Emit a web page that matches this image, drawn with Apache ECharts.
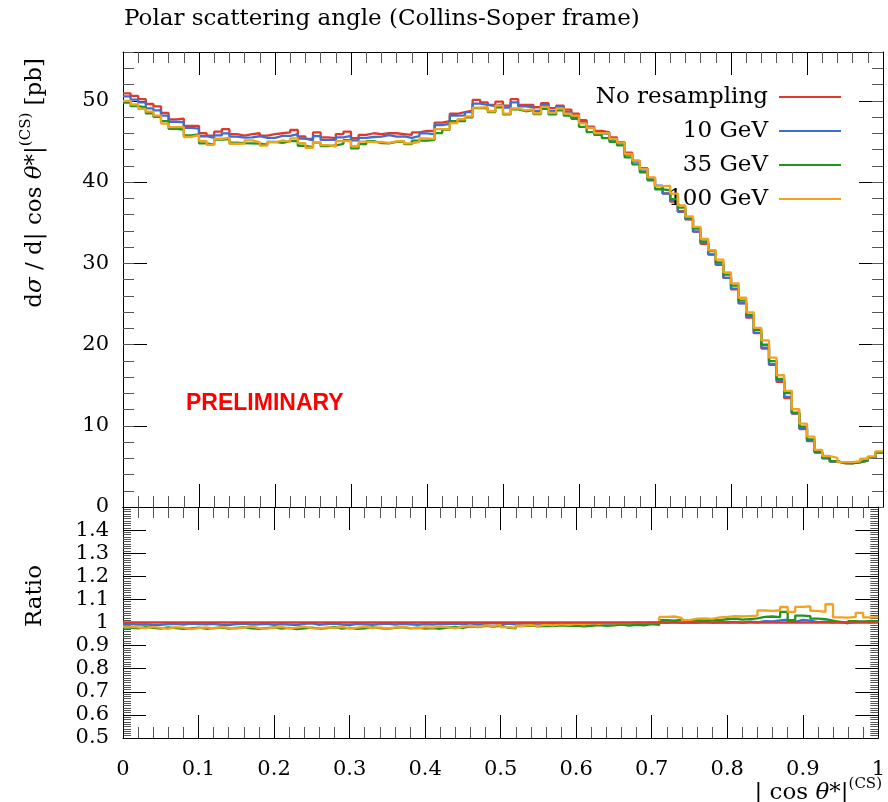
<!DOCTYPE html>
<html>
<head>
<meta charset="utf-8">
<script src="https://cdn.jsdelivr.net/npm/echarts@6/dist/echarts.min.js"></script>
<style>
html,body{margin:0;padding:0;background:#fff;}
#chart{width:888px;height:802px;}
</style>
</head>
<body>
<div id="chart"></div>
<script>
// ---- data ----
const binWidth = 0.01;
const nBins = 100;
const seriesNames = ['No resampling', '10 GeV', '35 GeV', '100 GeV'];

// "No resampling" cross section per bin [pb]
const noResampling = [
  50.9, 50.6, 50.2, 49.6, 49.3, 48.5, 47.7, 47.8, 46.9, 46.9,
  46.0, 45.7, 46.2, 46.5, 45.9, 45.7, 45.9, 46.0, 45.7, 45.9,
  46.0, 46.1, 46.4, 45.6, 45.3, 46.1, 45.5, 45.4, 45.9, 46.2,
  45.4, 45.8, 46.0, 45.9, 46.0, 46.0, 45.9, 45.8, 46.1, 46.3,
  46.3, 47.3, 47.5, 48.4, 48.6, 48.8, 50.1, 49.8, 49.5, 49.9,
  49.4, 50.2, 49.5, 49.5, 49.2, 49.7, 49.1, 49.4, 48.9, 48.4,
  47.6, 46.8, 46.3, 46.1, 45.5, 44.9, 43.6, 42.6, 41.7, 40.5,
  39.5, 38.6, 37.6, 36.4, 35.4, 33.9, 32.4, 31.1, 29.8, 28.2,
  26.8, 25.1, 23.3, 21.4, 19.5, 17.5, 15.4, 13.4, 11.5, 9.6,
  8.1, 6.7, 6.0, 5.6, 5.4, 5.4, 5.5, 5.7, 6.1, 6.7
];

// ratio to "No resampling" per bin
const ratio10GeV = [
  0.993, 0.991, 0.992, 0.989, 0.990, 0.993, 0.994, 0.991, 0.995, 0.993,
  0.992, 0.994, 0.990, 0.989, 0.993, 0.995, 0.991, 0.992, 0.994, 0.990,
  0.993, 0.991, 0.989, 0.994, 0.996, 0.990, 0.993, 0.995, 0.991, 0.989,
  0.994, 0.992, 0.990, 0.993, 0.995, 0.991, 0.994, 0.992, 0.990, 0.993,
  0.991, 0.994, 0.993, 0.995, 0.992, 0.996, 0.991, 0.994, 0.997, 0.993,
  0.995, 0.992, 0.996, 0.994, 0.991, 0.995, 0.993, 0.996, 0.994, 0.992,
  0.995, 0.997, 0.993, 0.996, 0.994, 0.997, 0.995, 0.998, 0.996, 0.999,
  1.001, 0.999, 1.002, 0.998, 1.001, 1.000, 1.003, 0.999, 1.002, 1.000,
  1.003, 0.998, 1.004, 1.001, 1.006, 1.005, 1.009, 1.012, 1.003, 1.011,
  1.008, 1.002, 1.004, 1.001, 1.003, 0.999, 1.002, 1.004, 1.001, 1.003
];
const ratio35GeV = [
  0.978, 0.975, 0.980, 0.977, 0.974, 0.979, 0.976, 0.972, 0.975, 0.978,
  0.973, 0.976, 0.979, 0.974, 0.977, 0.980, 0.975, 0.972, 0.976, 0.979,
  0.974, 0.977, 0.971, 0.975, 0.978, 0.973, 0.976, 0.980, 0.974, 0.977,
  0.972, 0.975, 0.979, 0.976, 0.973, 0.977, 0.980, 0.975, 0.978, 0.974,
  0.976, 0.973, 0.978, 0.981, 0.977, 0.983, 0.980, 0.985, 0.982, 0.986,
  0.978, 0.975, 0.984, 0.987, 0.983, 0.986, 0.984, 0.988, 0.985, 0.987,
  0.983, 0.986, 0.989, 0.985, 0.988, 0.991, 0.987, 0.990, 0.988, 0.993,
  0.990, 1.010, 1.008, 1.012, 1.006, 1.011, 1.009, 1.013, 1.010, 1.014,
  1.017, 1.012, 1.015, 1.018, 1.024, 1.026, 1.023, 1.046, 1.010, 1.030,
  1.028, 1.017, 1.015, 1.008, 1.002, 0.996, 1.006, 1.004, 1.007, 1.005
];
const ratio100GeV = [
  0.982, 0.979, 0.976, 0.981, 0.977, 0.973, 0.980, 0.978, 0.971, 0.976,
  0.979, 0.975, 0.981, 0.977, 0.974, 0.979, 0.983, 0.976, 0.973, 0.978,
  0.981, 0.975, 0.978, 0.982, 0.976, 0.973, 0.979, 0.977, 0.981, 0.975,
  0.978, 0.982, 0.976, 0.979, 0.974, 0.978, 0.981, 0.977, 0.975, 0.980,
  0.978, 0.983, 0.979, 0.976, 0.982, 0.985, 0.981, 0.988, 0.984, 0.990,
  0.980, 0.977, 0.986, 0.989, 0.985, 0.991, 0.988, 0.993, 0.990, 0.995,
  0.992, 0.997, 0.994, 0.998, 0.996, 0.999, 0.997, 1.001, 0.998, 1.002,
  1.000, 1.024, 1.026, 1.020, 1.010, 1.017, 1.018, 1.016, 1.022, 1.024,
  1.027, 1.026, 1.028, 1.030, 1.052, 1.050, 1.053, 1.067, 1.046, 1.068,
  1.070, 1.050, 1.046, 1.079, 1.022, 1.021, 1.024, 1.042, 1.022, 1.023
];

const xTickLabels = ['0', '0.1', '0.2', '0.3', '0.4', '0.5', '0.6', '0.7', '0.8', '0.9', '1'];

// ---- derived ----
const ratios = [noResampling.map(() => 1), ratio10GeV, ratio35GeV, ratio100GeV];
const values = ratios.map(r => noResampling.map((v, i) => v * r[i]));

function stepData(vals) {
  const d = vals.map((v, i) => [+(i * binWidth).toFixed(3), v]);
  d.push([+(nBins * binWidth).toFixed(3), vals[vals.length - 1]]);
  return d;
}

const colors = ['#e0392b', '#3b6fd6', '#1f961f', '#f4a21c'];
const serif = 'DejaVu Serif';

const chart = echarts.init(document.getElementById('chart'), null, {renderer: 'canvas'});

const majorTick = (len) => ({show: true, inside: true, length: len, lineStyle: {color: '#000', width: 1}});
const minorTick = (n, len) => ({show: true, splitNumber: n, length: len, lineStyle: {color: '#555', width: 1}});
const axisLine = {show: true, onZero: false, lineStyle: {color: '#000', width: 1}};
const noLabel = {show: false};

function xAx(grid, pos, labels) {
  return {
    type: 'value', gridIndex: grid, position: pos, min: 0, max: 1, interval: 0.1,
    axisLine: axisLine, axisTick: majorTick(23), minorTick: minorTick(5, 11),
    splitLine: {show: false}, minorSplitLine: {show: false},
    axisLabel: labels ? {
      show: true, margin: 21, color: '#000', fontFamily: serif, fontSize: 21,
      formatter: (v) => xTickLabels[Math.round(v * 10)]
    } : noLabel
  };
}

const richMath = {
  n: {fontFamily: serif, fontSize: 23, fill: '#000', lineHeight: 28, verticalAlign: 'bottom'},
  i: {fontFamily: serif, fontSize: 23, fontStyle: 'italic', fill: '#000', lineHeight: 28, verticalAlign: 'bottom'},
  s: {fontFamily: serif, fontSize: 15, fill: '#000', lineHeight: 15, verticalAlign: 'top'}
};

const option = {
  animation: false,
  backgroundColor: '#fff',
  title: {
    text: 'Polar scattering angle (Collins-Soper frame)',
    left: 119, top: 3,
    textStyle: {fontFamily: serif, fontSize: 23, fontWeight: 'normal', color: '#000'}
  },
  legend: {
    data: seriesNames,
    orient: 'vertical',
    align: 'right',
    right: 42, top: 79,
    icon: 'rect',
    itemWidth: 62, itemHeight: 2, itemGap: 8,
    textStyle: {fontFamily: serif, fontSize: 23, color: '#000', lineHeight: 26, padding: [0, 6, 0, 0]}
  },
  grid: [
    {left: 123, right: 5, top: 52, height: 455},
    {left: 123, right: 5, top: 507, height: 231}
  ],
  xAxis: [
    xAx(0, 'bottom', false),
    xAx(0, 'top', false),
    xAx(1, 'bottom', true),
    xAx(1, 'top', false)
  ],
  yAxis: [
    {type: 'value', gridIndex: 0, position: 'left', min: 0, max: 56, interval: 10,
     axisLine: axisLine, axisTick: majorTick(24), splitLine: {show: false},
     axisLabel: {show: true, margin: 14, color: '#000', fontFamily: serif, fontSize: 21, showMaxLabel: false}},
    {type: 'value', gridIndex: 0, position: 'left', min: 0, max: 56, interval: 2,
     axisLine: {show: false, onZero: false}, axisTick: {show: true, inside: true, length: 11, lineStyle: {color: '#555'}},
     splitLine: {show: false}, axisLabel: noLabel},
    {type: 'value', gridIndex: 0, position: 'right', min: 0, max: 56, interval: 10,
     axisLine: axisLine, axisTick: majorTick(24), splitLine: {show: false}, axisLabel: noLabel},
    {type: 'value', gridIndex: 0, position: 'right', min: 0, max: 56, interval: 2,
     axisLine: {show: false, onZero: false}, axisTick: {show: true, inside: true, length: 11, lineStyle: {color: '#555'}},
     splitLine: {show: false}, axisLabel: noLabel},
    {type: 'value', gridIndex: 1, position: 'left', min: 0.5, max: 1.5, interval: 0.1,
     axisLine: axisLine, axisTick: majorTick(23), minorTick: minorTick(10, 8),
     splitLine: {show: false}, minorSplitLine: {show: false},
     axisLabel: {show: true, margin: 14, color: '#000', fontFamily: serif, fontSize: 21, showMaxLabel: false,
                 formatter: (v) => String(+v.toFixed(1))}},
    {type: 'value', gridIndex: 1, position: 'right', min: 0.5, max: 1.5, interval: 0.1,
     axisLine: axisLine, axisTick: majorTick(23), minorTick: minorTick(10, 8),
     splitLine: {show: false}, minorSplitLine: {show: false}, axisLabel: noLabel}
  ],
  series: [],
  graphic: [
    {type: 'text', x: 186, y: 404, z: 100,
     style: {text: 'PRELIMINARY', fill: '#ff0000', font: 'bold 23px "Liberation Sans", Arial, sans-serif',
             align: 'left', verticalAlign: 'middle'}},
    {type: 'text', x: 33, y: 58, rotation: Math.PI / 2, z: 100,
     style: {
       text: '{n|d}{i|σ}{n| / d| cos }{i|θ}{n|*|}{s|(CS)}{n| [pb]}',
       align: 'right', verticalAlign: 'middle',
       rich: richMath
     }},
    {type: 'text', x: 35, y: 596, rotation: Math.PI / 2, z: 100,
     style: {text: 'Ratio', fill: '#000', font: '23px "DejaVu Serif"', align: 'center', verticalAlign: 'middle'}},
    {type: 'text', x: 882, y: 791, z: 100,
     style: {
       text: '{n|| cos }{i|θ}{n|*|}{s|(CS)}',
       align: 'right', verticalAlign: 'middle',
       rich: richMath
     }}
  ]
};

seriesNames.forEach((name, k) => {
  option.series.push({
    name: name, type: 'line', xAxisIndex: 0, yAxisIndex: 0,
    step: 'end', symbol: 'none', z: 2 + k,
    data: stepData(values[k]),
    lineStyle: {color: colors[k], width: 2.3}, itemStyle: {color: colors[k]}
  });
});
seriesNames.forEach((name, k) => {
  option.series.push({
    name: name, type: 'line', xAxisIndex: 2, yAxisIndex: 4,
    step: 'end', symbol: 'none', z: k === 0 ? 10 : 2 + k,
    data: stepData(ratios[k]),
    lineStyle: {color: colors[k], width: 2.3}, itemStyle: {color: colors[k]}
  });
});

chart.setOption(option);
</script>
</body>
</html>
